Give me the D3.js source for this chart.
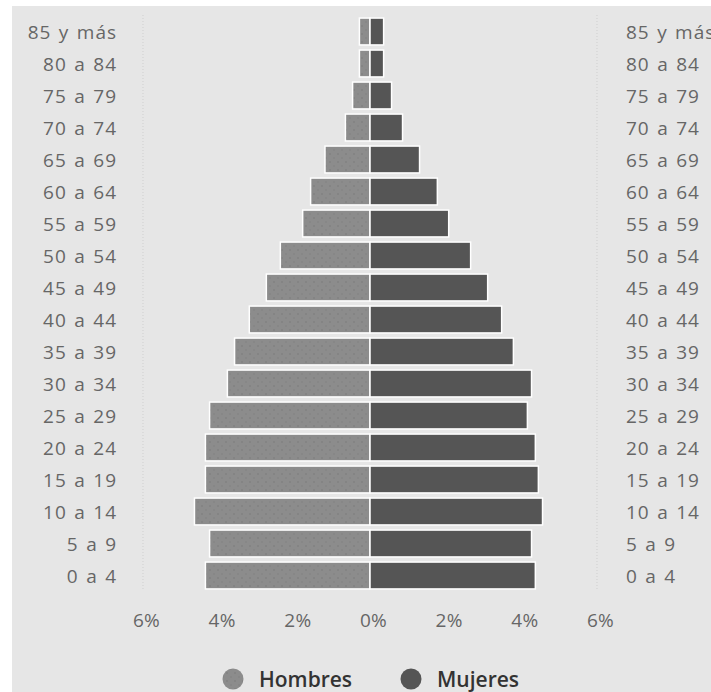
<!DOCTYPE html>
<html>
<head>
<meta charset="utf-8">
<script src="https://cdn.jsdelivr.net/npm/d3@7"></script>
<style>
  body { margin: 0; background: #fff; }
  text { font-family: "Open Sans", sans-serif; }
</style>
</head>
<body>
<div id="container"></div>
<script>
var width = 711,
    height = 692;

// age groups, top to bottom
var groups = ["85 y más", "80 a 84", "75 a 79", "70 a 74", "65 a 69", "60 a 64",
  "55 a 59", "50 a 54", "45 a 49", "40 a 44", "35 a 39", "30 a 34",
  "25 a 29", "20 a 24", "15 a 19", "10 a 14", "5 a 9", "0 a 4"];

// percent of population
var hombres = [0.28, 0.28, 0.46, 0.65, 1.19, 1.57, 1.78, 2.37, 2.74, 3.19, 3.58, 3.77,
  4.24, 4.35, 4.35, 4.64, 4.24, 4.35];
var mujeres = [0.36, 0.36, 0.57, 0.86, 1.31, 1.78, 2.08, 2.66, 3.11, 3.48, 3.79, 4.27,
  4.16, 4.37, 4.45, 4.56, 4.27, 4.37];

var ticks = [-6, -4, -2, 0, 2, 4, 6];
var series = ["Hombres", "Mujeres"];
var colors = ["#8c8c8c", "#555555"];

var svg = d3.select("#container").append("svg")
  .attr("width", width)
  .attr("height", height);

// dotted texture like the original
var defs = svg.append("defs");
var pat = defs.append("pattern")
  .attr("id", "dotsH")
  .attr("width", 8).attr("height", 8)
  .attr("patternUnits", "userSpaceOnUse");
pat.append("rect").attr("width", 8).attr("height", 8).attr("fill", colors[0]);
pat.append("circle").attr("cx", 2).attr("cy", 2).attr("r", 0.7).attr("fill", "#777");
pat.append("circle").attr("cx", 6).attr("cy", 6).attr("r", 0.7).attr("fill", "#7d7d7d");

// gray panel
svg.append("rect")
  .attr("x", 12).attr("y", 6)
  .attr("width", width - 12).attr("height", height - 6)
  .attr("fill", "#e6e6e6");

var x = d3.scaleLinear().domain([-6, 6]).range([143, 597]);
var y = d3.scaleBand().domain(groups).range([15.5, 591.5])
  .paddingInner(0.16).paddingOuter(0.08);

// gridlines at the 6% marks
svg.append("g")
  .selectAll("line")
  .data([-6, 6])
  .enter().append("line")
  .attr("x1", d => x(d)).attr("x2", d => x(d))
  .attr("y1", 15).attr("y2", 590)
  .attr("stroke", "#cfcfcf")
  .attr("stroke-dasharray", "1,2");

// bars
svg.append("g")
  .selectAll("rect")
  .data(groups)
  .enter().append("rect")
  .attr("x", (d, i) => x(-hombres[i]))
  .attr("y", d => y(d))
  .attr("width", (d, i) => x(0) - x(-hombres[i]))
  .attr("height", y.bandwidth())
  .attr("fill", "url(#dotsH)")
  .attr("stroke", "#fff")
  .attr("stroke-width", 1.5);

svg.append("g")
  .selectAll("rect")
  .data(groups)
  .enter().append("rect")
  .attr("x", x(0))
  .attr("y", d => y(d))
  .attr("width", (d, i) => x(mujeres[i]) - x(0))
  .attr("height", y.bandwidth())
  .attr("fill", colors[1])
  .attr("stroke", "#fff")
  .attr("stroke-width", 1.5);

// age labels on both sides
var labelStyle = function(sel) {
  sel.attr("font-size", 19)
    .attr("fill", "#666")
    .attr("letter-spacing", 1)
    .attr("word-spacing", 1.5)
    .attr("dy", "0.42em");
};

svg.append("g")
  .selectAll("text")
  .data(groups)
  .enter().append("text")
  .attr("x", 117)
  .attr("y", d => y(d) + y.bandwidth() / 2)
  .attr("text-anchor", "end")
  .text(d => d)
  .call(labelStyle);

svg.append("g")
  .selectAll("text")
  .data(groups)
  .enter().append("text")
  .attr("x", 626)
  .attr("y", d => y(d) + y.bandwidth() / 2)
  .text(d => d)
  .call(labelStyle);

// x axis
var xAxis = d3.axisBottom(x)
  .tickValues(ticks)
  .tickSize(0)
  .tickPadding(0)
  .tickFormat(d => Math.abs(d) + "%");

var gx = svg.append("g")
  .attr("transform", "translate(0,612)")
  .call(xAxis);
gx.select(".domain").remove();
gx.selectAll("text")
  .attr("font-size", 19)
  .attr("font-family", "Open Sans, sans-serif")
  .attr("fill", "#666")
  .attr("letter-spacing", 0.3)
  .attr("dy", "0.78em")
  .attr("dx", 3);

// legend
var legend = svg.append("g")
  .selectAll("g")
  .data(series)
  .enter().append("g")
  .attr("transform", (d, i) => "translate(" + [233, 411][i] + ",679)");

legend.append("circle")
  .attr("r", 10.5)
  .attr("fill", (d, i) => i == 0 ? "url(#dotsH)" : colors[1]);

legend.append("text")
  .attr("x", 26)
  .attr("dy", "0.37em")
  .attr("font-size", 21)
  .attr("font-weight", 600)
  .attr("fill", "#333")
  .text(d => d);
</script>
</body>
</html>
